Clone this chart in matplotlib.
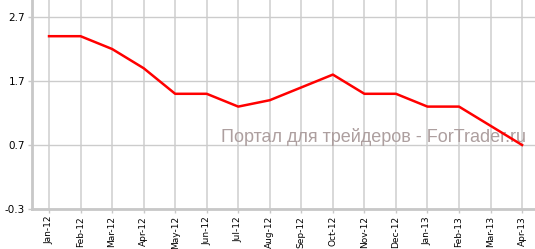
import matplotlib.pyplot as plt

# Data
months = ['Jan-12', 'Feb-12', 'Mar-12', 'Apr-12', 'May-12', 'Jun-12', 'Jul-12', 'Aug-12',
          'Sep-12', 'Oct-12', 'Nov-12', 'Dec-12', 'Jan-13', 'Feb-13', 'Mar-13', 'Apr-13']
values = [2.4, 2.4, 2.2, 1.9, 1.5, 1.5, 1.3, 1.4, 1.6, 1.8, 1.5, 1.5, 1.3, 1.3, 1.0, 0.7]
yticks = [-0.3, 0.7, 1.7, 2.7]

fig = plt.figure(figsize=(5.35, 2.49), dpi=100)
ax = fig.add_axes([32 / 535, 40 / 249, 1 - 32 / 535, 1 - 40 / 249])

x = list(range(len(months)))
ax.plot(x, values, color='#ff0000', linewidth=1.8, zorder=3)

ax.set_xlim(-0.54, 15.41)
ax.set_ylim(-0.3, 2.7 + 17 / 64)
ax.set_xticks(x)
ax.set_xticklabels(months, rotation=90, fontsize=6.5)
ax.set_yticks(yticks)
ax.set_yticklabels([f'{v:.1f}' for v in yticks], fontsize=7.5)

ax.grid(axis='y', color='#cccccc', linewidth=1)
ax.grid(axis='x', color='#d8d8d8', linewidth=1.4)
ax.set_axisbelow(True)

for side in ['top', 'right']:
    ax.spines[side].set_visible(False)
for side in ['left', 'bottom']:
    ax.spines[side].set_color('#c8c8c8')
    ax.spines[side].set_linewidth(2)
ax.tick_params(axis='both', length=3, width=1, color='#c8c8c8', pad=2)

# watermark sits under the line
ax.text(0.982, 0.32, 'Портал для трейдеров - ForTrader.ru', transform=ax.transAxes,
        ha='right', va='baseline', fontsize=13.0, family='Liberation Sans',
        color='#ad9f9f', zorder=2)

plt.savefig('out.png', dpi=100)
